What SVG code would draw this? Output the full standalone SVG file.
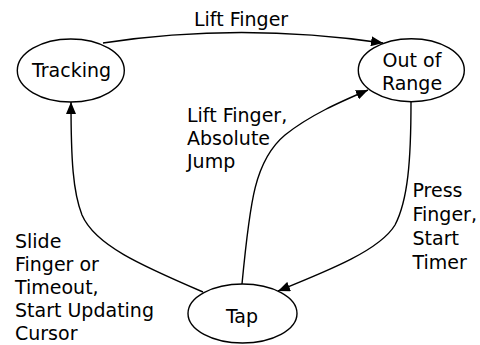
<svg xmlns="http://www.w3.org/2000/svg" width="480" height="345" viewBox="0 0 480 345">
<style>
.node{fill:#fff;stroke:#000;stroke-width:1.4}
.lbl{font-family:"DejaVu Sans",sans-serif;font-size:19px;fill:#000}
.c{text-anchor:middle}
.edge{fill:none;stroke:#000;stroke-width:1.4;marker-end:url(#arr)}
</style>
<defs>
<marker id="arr" markerUnits="userSpaceOnUse" markerWidth="12" markerHeight="10" refX="12" refY="5" orient="auto" viewBox="0 0 12 10">
<path d="M0,0 L12,5 L0,10 z" fill="#000"/>
</marker>
</defs>
<rect width="480" height="345" fill="#fff"/>
<g id="connectors">
<path class="edge" d="M103,43 Q240,22 383,43"/>
<path class="edge" d="M203,292 C140,265 95,245 82,215 C73,192 71,160 71,102"/>
<path class="edge" d="M242,284 C250,200 255,160 285,135 C310,115 340,102 368,90"/>
<path class="edge" d="M411,102 C411,160 408,200 395,225 C380,250 330,270 278,291"/>
</g>
<g id="tracking">
<ellipse class="node" cx="70.8" cy="70.5" rx="53.5" ry="31.5"/>
<text class="lbl c" x="71.5" y="76.5">Tracking</text>
</g>
<g id="out-of-range">
<ellipse class="node" cx="411.3" cy="70.2" rx="53" ry="31.5"/>
<text class="lbl c" x="412" y="67">Out of</text>
<text class="lbl c" x="412" y="89.5">Range</text>
</g>
<g id="tap">
<ellipse class="node" cx="242.5" cy="313.5" rx="54.5" ry="29.5"/>
<text class="lbl c" x="242" y="323">Tap</text>
</g>
<g id="labels">
<text class="lbl" x="194" y="26">Lift Finger</text>
<text class="lbl" x="187" y="121.7">Lift Finger,</text>
<text class="lbl" x="187" y="144.5">Absolute</text>
<text class="lbl" x="187" y="167.5">Jump</text>
<text class="lbl" x="412.5" y="197">Press</text>
<text class="lbl" x="412.5" y="221">Finger,</text>
<text class="lbl" x="412.5" y="245">Start</text>
<text class="lbl" x="412.5" y="269">Timer</text>
<text class="lbl" x="15" y="247.5">Slide</text>
<text class="lbl" x="15" y="270.8">Finger or</text>
<text class="lbl" x="15" y="294">Timeout,</text>
<text class="lbl" x="15" y="317">Start Updating</text>
<text class="lbl" x="15" y="340.3">Cursor</text>
</g>
</svg>
